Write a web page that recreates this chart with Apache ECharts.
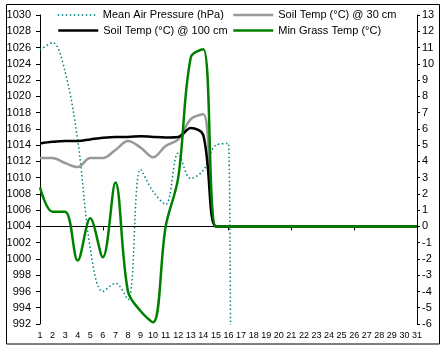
<!DOCTYPE html>
<html>
<head>
<meta charset="utf-8">
<script src="https://cdn.jsdelivr.net/npm/echarts@6/dist/echarts.min.js"></script>
<style>
html,body{margin:0;padding:0;background:#fff;}
#chart{width:444px;height:350px;}
</style>
</head>
<body>
<div id="chart"></div>
<script>
// Data
const days = ['1','2','3','4','5','6','7','8','9','10','11','12','13','14','15','16','17','18','19','20','21','22','23','24','25','26','27','28','29','30','31'];
const pressure = [1025.7,1026.6,1023.0,1014.6,1001.3,996.0,997.0,995.0,1011.0,1008.3,1006.7,1013.0,1009.9,1010.9,1014.0,1014.2,0,0,0,0,0,0,0,0,0,0,0,0,0,0,0];
const soil30 = [4.2,4.2,3.9,3.65,4.2,4.2,4.7,5.25,4.85,4.25,4.95,5.35,6.6,6.9,0,0,0,0,0,0,0,0,0,0,0,0,0,0,0,0,0];
const soil100 = [5.1,5.2,5.25,5.25,5.35,5.45,5.5,5.5,5.55,5.5,5.47,5.5,6.05,5.6,0,0,0,0,0,0,0,0,0,0,0,0,0,0,0,0,0];
const minGrass = [2.4,0.9,0.9,-2.1,0.5,-1.9,2.7,-4.0,-5.2,-5.9,0.0,3.0,10.4,10.9,0,0,0,0,0,0,0,0,0,0,0,0,0,0,0,0,0];
const names = ['Mean Air Pressure (hPa)','Soil Temp (°C) @ 30 cm','Soil Temp (°C) @ 100 cm','Min Grass Temp (°C)'];

const FONT = 'Liberation Sans, Arial, sans-serif';
const chart = echarts.init(document.getElementById('chart'), null, {renderer:'canvas'});

function legendAt(name, left, top, lw) {
  return {
    data: [name], left: left, top: top, orient: 'horizontal',
    itemWidth: 40, itemHeight: 12, padding: 0,
    textStyle: {color:'#000', fontSize: 11, fontFamily: FONT},
    itemStyle: {opacity: 0},
    lineStyle: {width: lw},
    selectedMode: false
  };
}

chart.setOption({
  animation: false,
  backgroundColor: '#fff',
  textStyle: {fontFamily: FONT},
  graphic: [{
    type: 'rect', silent: true, z: -10,
    shape: {x: 6.5, y: 4.5, width: 433, height: 339.5},
    style: {fill: 'none', stroke: '#000', lineWidth: 1}
  }],
  legend: [
    legendAt(names[0], 57, 9.5, 1.5),
    legendAt(names[1], 232, 9.5, 2.5),
    legendAt(names[2], 57, 25, 2.5),
    legendAt(names[3], 232, 25, 2.5)
  ],
  grid: {left: 40, right: 27, top: 15, bottom: 26, containLabel: false},
  xAxis: {
    type: 'category', data: days, boundaryGap: false,
    axisLine: {lineStyle: {color: '#000', width: 1}},
    axisTick: {interval: 4, length: 4, lineStyle: {color: '#000'}},
    axisLabel: {interval: 0, fontSize: 9, color: '#000', margin: 7, fontFamily: FONT},
    splitLine: {show: false}
  },
  yAxis: [{
    type: 'value', min: 992, max: 1030, interval: 2, position: 'left',
    axisLine: {show: true, lineStyle: {color: '#000', width: 1}},
    axisTick: {show: true, length: 4, lineStyle: {color: '#000'}},
    axisLabel: {fontSize: 11, color: '#000', margin: 9, fontFamily: FONT, formatter: function (v) { return String(v); }},
    splitLine: {show: false}
  }, {
    type: 'value', min: -6, max: 13, interval: 1, position: 'right',
    axisLine: {show: true, lineStyle: {color: '#000', width: 1}},
    axisTick: {show: true, length: 3, lineStyle: {color: '#000'}},
    axisLabel: {fontSize: 11, color: '#000', margin: 5, fontFamily: FONT, formatter: function (v) { return String(v); }},
    splitLine: {show: false}
  }],
  series: [{
    name: names[0], type: 'line', yAxisIndex: 0, data: pressure,
    smooth: 0.35, symbol: 'none', showSymbol: false, clip: true,
    lineStyle: {color: '#008080', width: 1.5, type: [1.5, 2.5]},
    itemStyle: {color: '#008080'}
  }, {
    name: names[1], type: 'line', yAxisIndex: 1, data: soil30,
    smooth: 0.35, symbol: 'none', showSymbol: false, clip: true,
    lineStyle: {color: '#999999', width: 2.5},
    itemStyle: {color: '#999999'}
  }, {
    name: names[2], type: 'line', yAxisIndex: 1, data: soil100,
    smooth: 0.35, symbol: 'none', showSymbol: false, clip: true,
    lineStyle: {color: '#000000', width: 2.5},
    itemStyle: {color: '#000000'}
  }, {
    name: names[3], type: 'line', yAxisIndex: 1, data: minGrass,
    smooth: 0.35, symbol: 'none', showSymbol: false, clip: true,
    lineStyle: {color: '#008000', width: 2.5},
    itemStyle: {color: '#008000'}
  }]
});
</script>
</body>
</html>
